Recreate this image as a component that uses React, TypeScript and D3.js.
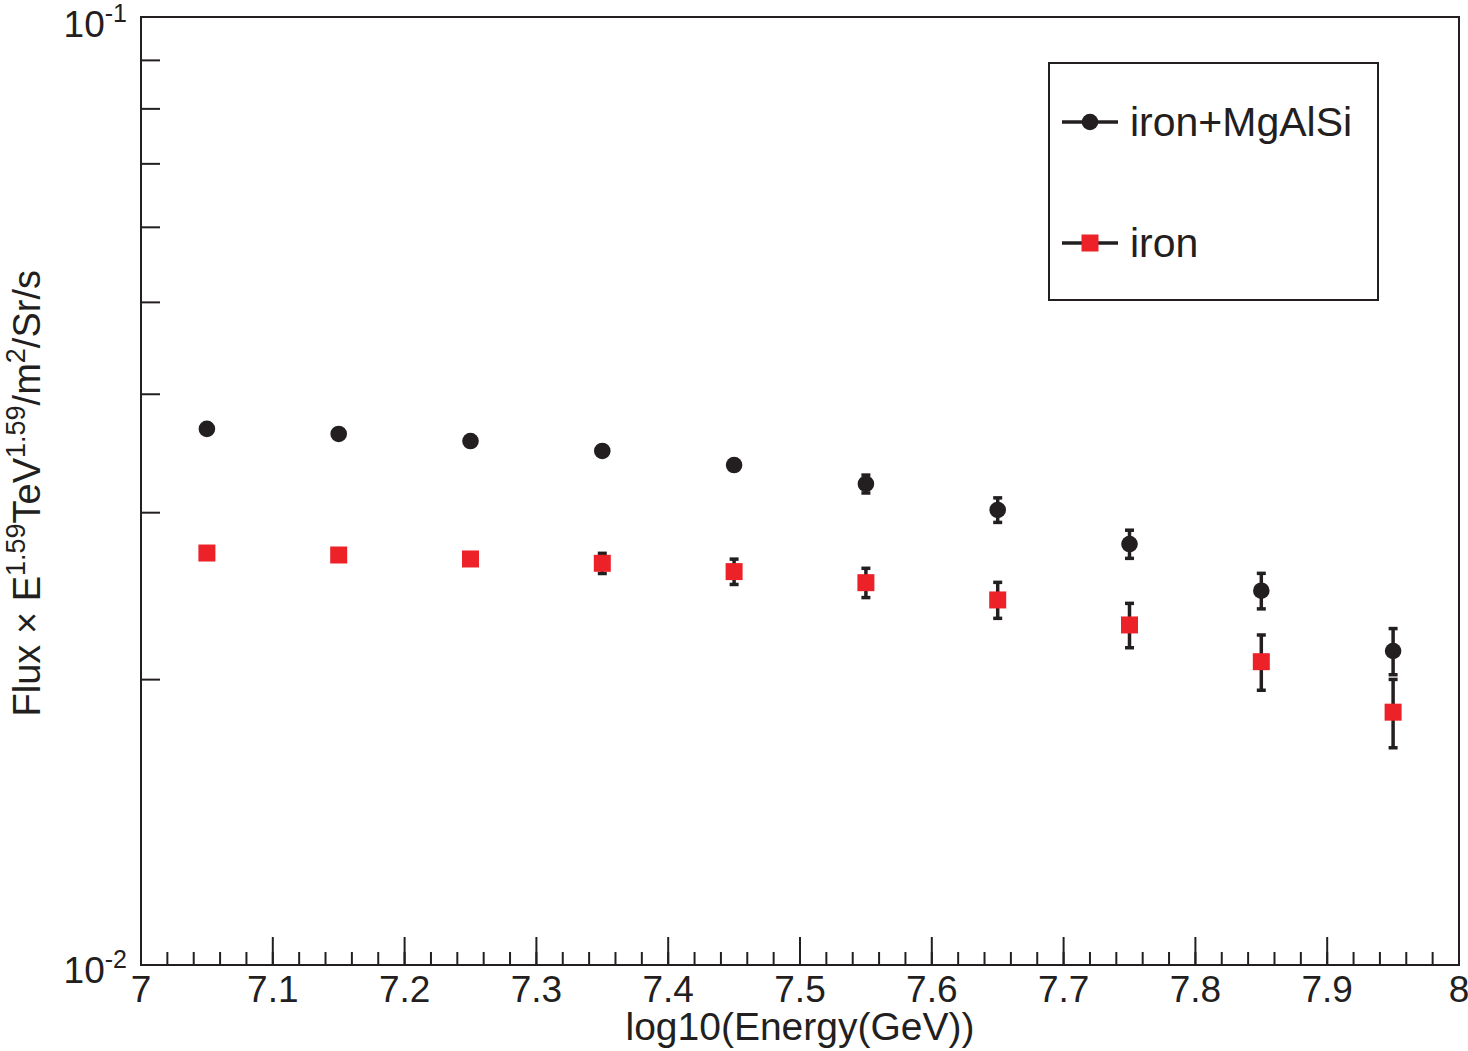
import React from "react";
import * as d3 from "d3";

const energies = [7.05, 7.15, 7.25, 7.35, 7.45, 7.55, 7.65, 7.75, 7.85, 7.95];
const ironMgAlSi = [0.03677, 0.03632, 0.0357, 0.03485, 0.03368, 0.03217, 0.0302, 0.0278, 0.02482, 0.02144];
const ironMgAlSiErr = [0.0003, 0.0003, 0.0004, 0.0005, 0.0006, 0.0007, 0.0009, 0.00095, 0.00107, 0.0012];
const iron = [0.0272, 0.02707, 0.02681, 0.02653, 0.026, 0.02531, 0.02427, 0.02284, 0.02089, 0.01848];
const ironErr = [0.0003, 0.0004, 0.0005, 0.00065, 0.0008, 0.0009, 0.00106, 0.00123, 0.0014, 0.00153];
const xMajorTicks = [7.0, 7.1, 7.2, 7.3, 7.4, 7.5, 7.6, 7.7, 7.8, 7.9, 8.0];
const xTickLabels = ["7", "7.1", "7.2", "7.3", "7.4", "7.5", "7.6", "7.7", "7.8", "7.9", "8"];
const yMinorTicks = [0.02, 0.03, 0.04, 0.05, 0.06, 0.07, 0.08, 0.09];
const seriesNames = ["iron+MgAlSi", "iron"];

const W = 1468;
const H = 1051;
const L = 141, R = 1459, T = 17, B = 965;
const INK = "#231f20";
const RED = "#ec2228";
const FONT = "'Liberation Sans', Arial, Helvetica, sans-serif";

export default function App() {
  const x = d3.scaleLinear().domain([7, 8]).range([L, R]);
  const y = d3.scaleLog().domain([0.01, 0.1]).range([B, T]);
  const xMinor = d3.range(0, 51).map((i) => 7 + i * 0.02);

  const markerHalf = 8.5;
  const errBars = (vals: number[], errs: number[], key: string) =>
    vals.map((v, i) => {
      const cx = x(energies[i]);
      const yt = y(v + errs[i]);
      const yb = y(v - errs[i]);
      const yc = y(v);
      const els: React.ReactNode[] = [];
      if (yc - yt > markerHalf) {
        els.push(<line key="u" x1={cx} x2={cx} y1={yt} y2={yc} stroke={INK} strokeWidth={3.5} />);
        els.push(<line key="uc" x1={cx - 4.5} x2={cx + 4.5} y1={yt} y2={yt} stroke={INK} strokeWidth={3.5} />);
      }
      if (yb - yc > markerHalf) {
        els.push(<line key="d" x1={cx} x2={cx} y1={yc} y2={yb} stroke={INK} strokeWidth={3.5} />);
        els.push(<line key="dc" x1={cx - 4.5} x2={cx + 4.5} y1={yb} y2={yb} stroke={INK} strokeWidth={3.5} />);
      }
      return <g key={key + i}>{els}</g>;
    });

  const legendY = [122, 243];

  return (
    <svg
      width={W}
      height={H}
      viewBox={`0 0 ${W} ${H}`}
      style={{ position: "absolute", left: 0, top: 0, background: "#fff" }}
      fontFamily={FONT}
    >
      <rect x={0} y={0} width={W} height={H} fill="#fff" />
      {/* frame */}
      <rect x={L} y={T} width={R - L} height={B - T} fill="none" stroke={INK} strokeWidth={2} />
      {/* x ticks */}
      {xMinor.map((t, i) => (
        <line key={"xm" + i} x1={x(t)} x2={x(t)} y1={B} y2={B - 13} stroke={INK} strokeWidth={2} />
      ))}
      {xMajorTicks.map((t, i) => (
        <line key={"xM" + i} x1={x(t)} x2={x(t)} y1={B} y2={B - 28} stroke={INK} strokeWidth={2} />
      ))}
      {xMajorTicks.map((t, i) => (
        <text key={"xl" + i} x={x(t)} y={1002} fontSize={37} textAnchor="middle" fill={INK}>
          {xTickLabels[i]}
        </text>
      ))}
      {/* y ticks */}
      {yMinorTicks.map((t, i) => (
        <line key={"ym" + i} x1={L} x2={L + 19} y1={y(t)} y2={y(t)} stroke={INK} strokeWidth={2} />
      ))}
      <text x={127} y={37} fontSize={37} textAnchor="end" fill={INK}>
        10<tspan fontSize={25} dy={-15}>-1</tspan>
      </text>
      <text x={127} y={983} fontSize={37} textAnchor="end" fill={INK}>
        10<tspan fontSize={25} dy={-15}>-2</tspan>
      </text>
      {/* axis titles */}
      <text x={(L + R) / 2} y={1040} fontSize={39} textAnchor="middle" fill={INK}>
        log10(Energy(GeV))
      </text>
      <text transform="translate(40,270) rotate(-90)" fontSize={38} textAnchor="end" fill={INK}>
        Flux × E<tspan fontSize={27} dy={-15}>1.59</tspan>
        <tspan dy={15}>TeV</tspan>
        <tspan fontSize={27} dy={-15}>1.59</tspan>
        <tspan dy={15}>/m</tspan>
        <tspan fontSize={27} dy={-15}>2</tspan>
        <tspan dy={15}>/Sr/s</tspan>
      </text>
      {/* error bars */}
      {errBars(ironMgAlSi, ironMgAlSiErr, "eb")}
      {errBars(iron, ironErr, "er")}
      {/* markers */}
      {ironMgAlSi.map((v, i) => (
        <circle key={"c" + i} cx={x(energies[i])} cy={y(v)} r={8.3} fill={INK} />
      ))}
      {iron.map((v, i) => (
        <rect key={"s" + i} x={x(energies[i]) - 8.5} y={y(v) - 8.5} width={17} height={17} fill={RED} />
      ))}
      {/* legend */}
      <rect x={1049} y={63} width={329} height={237} fill="#fff" stroke={INK} strokeWidth={2} />
      {seriesNames.map((name, i) => (
        <g key={"lg" + i}>
          <line x1={1062} x2={1118} y1={legendY[i]} y2={legendY[i]} stroke={INK} strokeWidth={3.5} />
          {i === 0 ? (
            <circle cx={1090} cy={legendY[i]} r={8.3} fill={INK} />
          ) : (
            <rect x={1090 - 8.5} y={legendY[i] - 8.5} width={17} height={17} fill={RED} />
          )}
          <text x={1130} y={legendY[i] + 14} fontSize={41} fill={INK}>
            {name}
          </text>
        </g>
      ))}
    </svg>
  );
}
